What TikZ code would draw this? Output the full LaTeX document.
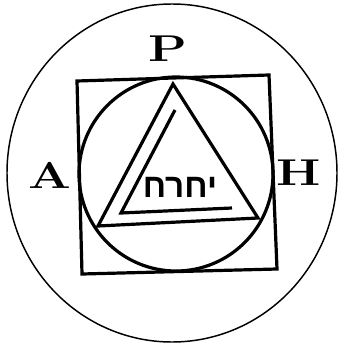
\documentclass[tikz,border=0pt]{standalone}
\usepackage{fontspec}
\usepackage{tikz}
\usetikzlibrary{calc}
\newfontfamily\hebfont[Script=Hebrew]{Liberation Sans}
\TeXXeTstate=1
\tikzset{
  ring/.style={draw=black,line width=1.1pt},
  heavy/.style={draw=black,line width=2.4pt,line join=miter},
  letter/.style={inner sep=0pt,xscale=1.35,transform shape,font=\fontsize{28}{28}\selectfont\bfseries},
  heb/.style={inner sep=0pt,font=\fontsize{25}{25}\selectfont\hebfont\bfseries},
}

\begin{document}
\begin{tikzpicture}[x=0.75pt,y=-0.75pt]
  \useasboundingbox (0,0) rectangle (338,346);
  % outer ring
  \draw[ring] (172,173) ellipse[x radius=123.75pt,y radius=126.75pt];
  % square and inscribed circle
  \coordinate (s1) at (77,81);\coordinate (s2) at (269,75);
  \coordinate (s3) at (277,269);\coordinate (s4) at (82,274);
  \draw[heavy] (s1)--(s2)--(s3)--(s4)--cycle;
  \draw[heavy] (176,174) circle[radius=72.75pt];
  % triangle with inner lines
  \coordinate (t1) at (173,84);\coordinate (t2) at (98,226);\coordinate (t3) at (258,218);
  \draw[heavy] (t1)--(t2)--(t3)--cycle;
  \coordinate (u1) at (175,110);\coordinate (u2) at (121,213);\coordinate (u3) at (232,208);
  \draw[heavy] (u1)--(u2)--(u3);
  % letters
  \node[letter](p) at (168,49){P};
  \node[letter](a) at (50,175){A};
  \node[letter](h) at (299,173){H};
  \node[heb](name) at (180,187){\beginR יחרח\endR};
\end{tikzpicture}
\end{document}
